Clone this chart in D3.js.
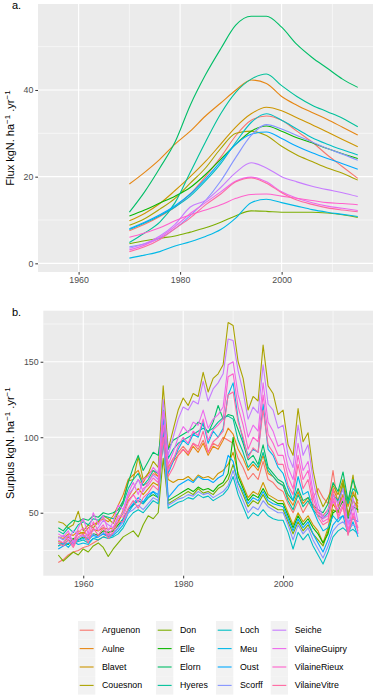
<!DOCTYPE html>
<html>
<head>
<meta charset="utf-8">
<script src="https://cdn.jsdelivr.net/npm/d3@7"></script>
<style>
  body { margin: 0; background: #fff; }
  svg { display: block; font-family: "Liberation Sans", Arial, sans-serif; }
</style>
</head>
<body>
<div id="chart"></div>
<script>
// catchments, in legend order
var names = ["Arguenon", "Aulne", "Blavet", "Couesnon", "Don", "Elle", "Elorn", "Hyeres",
  "Loch", "Meu", "Oust", "Scorff", "Seiche", "VilaineGuipry", "VilaineRieux", "VilaineVitre"];
var colors = ["#F8766D", "#E68613", "#CD9600", "#ABA300", "#7CAE00", "#0CB702", "#00BE67", "#00C19A",
  "#00BFC4", "#00B8E7", "#00A9FF", "#8494FF", "#C77CFF", "#ED68ED", "#FF61CC", "#FF68A1"];

// panel a: smoothed flux, sampled every 3 years
var fluxYears = [1970, 1973, 1976, 1979, 1982, 1985, 1988, 1991, 1994, 1997, 2000, 2003, 2006, 2009, 2012, 2015];
var fluxArguenon = [7.5, 9, 10.8, 13, 16, 20, 24.5, 29.5, 33, 34, 33, 30.5, 28, 25, 22.3, 19.6];
var fluxAulne = [18.3, 21, 24, 27.5, 30.5, 34, 37, 40, 42.3, 41.5, 38.5, 36.5, 34.8, 33.2, 31.4, 29.6];
var fluxBlavet = [9.8, 11.5, 13.8, 16.8, 20, 23.5, 27.5, 31.5, 34.5, 36, 35.2, 33.6, 32, 30.3, 28.6, 26.9];
var fluxCouesnon = [8.8, 10.3, 12.5, 15, 18.5, 22, 26.5, 30, 30.5, 29.5, 27, 25, 23.5, 22, 20.8, 19.2];
var fluxDon = [4.5, 5.2, 5.8, 6.3, 7.2, 8.2, 9.5, 11, 12.1, 12, 11.8, 11.8, 11.8, 11.6, 11.2, 10.6];
var fluxElle = [10.9, 12.3, 13.9, 15.5, 17.5, 20.5, 24, 27.5, 30.5, 31.7, 30.5, 29, 27.8, 26.5, 25.3, 24.2];
var fluxElorn = [11.8, 16.5, 22, 28, 36.5, 43.5, 49.5, 55, 57, 57, 54.5, 50.5, 47.5, 45, 42.5, 40.6];
var fluxHyeres = [4.8, 7, 9.5, 14, 21, 28, 34.5, 39.5, 42.5, 43.7, 41, 38.5, 36.5, 35, 33.5, 31.5];
var fluxLoch = [7.8, 9.3, 11, 13, 15.5, 19, 23, 28, 32.5, 34.5, 33, 31, 29, 27.5, 26.2, 25];
var fluxMeu = [1.2, 1.9, 2.7, 4, 5, 6.2, 7.8, 10.5, 14, 14.8, 14, 13.2, 12.4, 11.8, 11.3, 10.8];
var fluxOust = [8, 9.5, 11.2, 13.3, 16, 19.5, 23.5, 27.5, 29.8, 30.3, 28.8, 27, 25.5, 24.2, 23, 21.7];
var fluxScorff = [3.8, 4.5, 5.8, 8, 11, 14.5, 19, 24.5, 29.5, 32, 31, 29.5, 28, 26.5, 25.2, 23.8];
var fluxSeiche = [3.5, 4.5, 6.3, 9, 13, 14.5, 17.5, 21, 23.2, 22, 20, 18.8, 17.8, 17, 16.3, 15.4];
var fluxVilaineGuipry = [3.1, 4.2, 6, 8.5, 11.5, 14, 16.5, 19, 19.9, 18.8, 16.5, 15, 14, 13.2, 12.7, 12.2];
var fluxVilaineRieux = [6, 7, 8.2, 9.8, 11.2, 12.3, 13.5, 15, 15.9, 16, 15.5, 15, 14.5, 14, 13.8, 13.5];
var fluxVilaineVitre = [2.7, 3.8, 5.5, 8, 10.5, 13.5, 16, 18.8, 19.7, 18.5, 16.3, 14.6, 13.6, 12.8, 12.3, 11.9];
var fluxSeries = [fluxArguenon, fluxAulne, fluxBlavet, fluxCouesnon, fluxDon, fluxElle, fluxElorn, fluxHyeres,
  fluxLoch, fluxMeu, fluxOust, fluxScorff, fluxSeiche, fluxVilaineGuipry, fluxVilaineRieux, fluxVilaineVitre];

// panel b: yearly surplus 1955-2015
var surplusYears = d3.range(1955, 2016);
var surArguenon = [17, 19, 22, 24, 25, 27, 28, 30, 32, 34, 36, 38, 44, 52, 60, 66, 72, 68, 70, 76,
  74, 104, 80, 86, 90, 94, 90, 96, 92, 98, 90, 96, 94, 100, 98, 96, 86, 80, 72, 76,
  72, 84, 72, 70, 66, 64, 56, 50, 58, 50, 56, 60, 66, 60, 56, 78, 54, 62, 50, 58, 52];
var surAulne = [34, 33, 36, 35, 38, 36, 40, 42, 44, 46, 44, 48, 55, 62, 72, 75, 78, 70, 76, 78,
  74, 98, 78, 84, 88, 92, 88, 94, 90, 96, 88, 94, 92, 98, 106, 102, 92, 86, 78, 82,
  78, 88, 76, 74, 70, 68, 60, 55, 64, 56, 60, 54, 50, 48, 52, 66, 58, 70, 54, 64, 56];
var surBlavet = [31, 30, 34, 32, 36, 37, 35, 39, 38, 40, 39, 40, 44, 50, 58, 62, 66, 62, 66, 70,
  68, 98, 72, 70, 72, 72, 74, 71, 75, 73, 74, 72, 76, 78, 82, 90, 76, 68, 60, 64,
  62, 70, 62, 60, 58, 58, 50, 42, 50, 44, 48, 42, 38, 30, 40, 56, 50, 62, 48, 58, 54];
var surCouesnon = [44, 43, 40, 42, 51, 38, 42, 40, 44, 48, 46, 43, 50, 57, 71, 72, 87, 72, 76, 84,
  80, 134, 92, 105, 118, 126, 121, 129, 127, 143, 130, 139, 142, 148, 176, 174, 150, 139, 118, 127,
  124, 161, 134, 129, 115, 118, 95, 88, 119, 97, 103, 78, 62, 54, 60, 68, 62, 72, 56, 75, 50];
var surDon = [22, 18, 21, 24, 22, 26, 24, 28, 30, 27, 21, 26, 30, 34, 36, 38, 34, 42, 48, 46,
  50, 86, 56, 58, 60, 62, 64, 62, 66, 63, 64, 62, 66, 68, 72, 82, 70, 62, 54, 58,
  56, 62, 56, 54, 52, 52, 44, 36, 44, 38, 42, 36, 32, 28, 38, 52, 50, 70, 48, 62, 58];
var surElle = [28, 30, 29, 33, 32, 34, 33, 36, 35, 38, 37, 38, 42, 46, 52, 55, 58, 56, 60, 62,
  60, 100, 58, 60, 62, 64, 66, 64, 67, 65, 66, 64, 68, 70, 76, 100, 74, 66, 58, 62,
  60, 66, 60, 58, 56, 56, 48, 40, 48, 42, 46, 40, 36, 30, 36, 50, 52, 58, 46, 54, 52];
var surElorn = [40, 38, 42, 45, 44, 46, 45, 48, 47, 50, 49, 50, 52, 58, 70, 80, 88, 78, 84, 90,
  88, 112, 92, 98, 100, 102, 104, 106, 110, 108, 103, 110, 121, 112, 115, 114, 105, 96, 85, 88,
  82, 95, 80, 76, 72, 70, 62, 58, 66, 58, 60, 55, 52, 50, 56, 70, 64, 77, 58, 72, 62];
var surHyeres = [38, 36, 40, 37, 42, 44, 42, 46, 45, 48, 47, 46, 50, 56, 66, 72, 76, 68, 72, 78,
  76, 118, 86, 92, 96, 98, 100, 102, 104, 106, 104, 106, 110, 113, 114, 112, 98, 90, 80, 84,
  80, 90, 78, 74, 70, 68, 58, 52, 62, 54, 58, 52, 48, 46, 50, 62, 58, 66, 56, 66, 63];
var surLoch = [30, 29, 32, 30, 31, 32, 30, 33, 32, 34, 33, 34, 36, 40, 46, 50, 52, 50, 54, 58,
  56, 104, 53, 55, 57, 58, 60, 59, 62, 60, 61, 58, 60, 62, 66, 74, 62, 54, 46, 50,
  48, 52, 48, 46, 45, 45, 37, 26, 37, 32, 36, 28, 22, 16, 24, 34, 38, 40, 37, 39, 36];
var surMeu = [28, 30, 27, 31, 29, 30, 29, 33, 34, 36, 34, 35, 38, 42, 50, 55, 58, 56, 60, 64,
  60, 110, 76, 84, 92, 98, 95, 102, 100, 110, 96, 104, 100, 106, 128, 136, 112, 98, 88, 92,
  90, 122, 92, 88, 80, 76, 66, 58, 74, 62, 64, 52, 44, 38, 40, 48, 44, 48, 36, 44, 34];
var surOust = [26, 28, 30, 29, 32, 33, 32, 35, 34, 36, 35, 36, 40, 46, 52, 56, 60, 57, 62, 64,
  62, 112, 60, 64, 68, 70, 72, 70, 74, 72, 72, 70, 73, 75, 88, 84, 70, 64, 56, 60,
  58, 64, 58, 56, 55, 54, 46, 38, 46, 40, 44, 36, 30, 24, 32, 42, 46, 48, 44, 46, 44];
var surScorff = [34, 32, 35, 31, 33, 35, 33, 36, 34, 37, 35, 36, 40, 44, 50, 52, 55, 52, 56, 60,
  58, 100, 55, 57, 59, 60, 62, 61, 64, 62, 63, 60, 62, 64, 68, 78, 66, 58, 50, 54,
  52, 58, 54, 52, 50, 50, 42, 32, 42, 36, 40, 32, 26, 20, 28, 38, 42, 44, 40, 42, 40];
var surSeiche = [33, 35, 32, 38, 36, 34, 36, 38, 40, 45, 42, 40, 46, 50, 62, 66, 72, 64, 70, 75,
  72, 125, 88, 100, 112, 120, 118, 124, 122, 137, 124, 132, 136, 142, 165, 164, 144, 130, 112, 120,
  116, 148, 122, 118, 106, 108, 88, 80, 108, 88, 95, 72, 56, 47, 52, 62, 56, 66, 42, 60, 44];
var surVilaineGuipry = [36, 34, 38, 30, 40, 46, 36, 50, 42, 48, 38, 44, 55, 52, 63, 70, 62, 72, 74, 80,
  76, 117, 82, 90, 100, 107, 103, 110, 108, 118, 106, 112, 115, 120, 148, 150, 128, 116, 100, 108,
  104, 136, 110, 104, 94, 96, 80, 72, 96, 78, 84, 64, 52, 46, 48, 58, 52, 60, 38, 55, 36];
var surVilaineRieux = [32, 30, 35, 28, 37, 40, 33, 44, 38, 42, 35, 40, 48, 47, 57, 62, 57, 66, 68, 73,
  70, 108, 78, 85, 94, 100, 96, 104, 101, 112, 98, 105, 108, 112, 140, 142, 120, 108, 92, 100,
  97, 128, 102, 96, 88, 88, 74, 66, 88, 72, 78, 60, 50, 44, 46, 60, 48, 56, 36, 50, 40];
var surVilaineVitre = [30, 28, 32, 27, 34, 36, 30, 40, 35, 40, 33, 37, 44, 44, 53, 58, 53, 60, 63, 68,
  65, 100, 74, 80, 88, 92, 89, 96, 94, 104, 90, 97, 100, 104, 128, 130, 110, 100, 86, 93,
  90, 118, 95, 90, 82, 82, 68, 62, 82, 66, 72, 56, 47, 42, 44, 66, 46, 54, 35, 48, 38];
var surplusSeries = [surArguenon, surAulne, surBlavet, surCouesnon, surDon, surElle, surElorn, surHyeres,
  surLoch, surMeu, surOust, surScorff, surSeiche, surVilaineGuipry, surVilaineRieux, surVilaineVitre];

var xTicks = [1960, 1980, 2000];
var xMinor = [1970, 1990, 2010];
var fluxTicks = [0, 20, 40];
var fluxMinor = [10, 30, 50];
var surTicks = [50, 100, 150];
var surMinor = [25, 75, 125, 175];

var W = 375, H = 696;
var svg = d3.select("#chart").append("svg").attr("width", W).attr("height", H);

function panel(opt) {
  var x = d3.scaleLinear().domain([1952, 2018]).range([opt.left, 373]);
  var y = d3.scaleLinear().domain(opt.yDomain).range([opt.bottom, opt.top]);
  var g = svg.append("g");

  g.append("rect").attr("x", opt.left).attr("y", opt.top)
    .attr("width", 373 - opt.left).attr("height", opt.bottom - opt.top).attr("fill", "#EBEBEB");

  // grid
  g.selectAll(".hmin").data(opt.yMinor.filter(function(d) { return y(d) > opt.top && y(d) < opt.bottom; }))
    .enter().append("line")
    .attr("x1", opt.left).attr("x2", 373).attr("y1", function(d) { return y(d); }).attr("y2", function(d) { return y(d); })
    .attr("stroke", "#fff").attr("stroke-width", 0.55);
  g.selectAll(".vmin").data(xMinor).enter().append("line")
    .attr("y1", opt.top).attr("y2", opt.bottom).attr("x1", function(d) { return x(d); }).attr("x2", function(d) { return x(d); })
    .attr("stroke", "#fff").attr("stroke-width", 0.55);
  g.selectAll(".hmaj").data(opt.yTicks).enter().append("line")
    .attr("x1", opt.left).attr("x2", 373).attr("y1", function(d) { return y(d); }).attr("y2", function(d) { return y(d); })
    .attr("stroke", "#fff").attr("stroke-width", 1.1);
  g.selectAll(".vmaj").data(xTicks).enter().append("line")
    .attr("y1", opt.top).attr("y2", opt.bottom).attr("x1", function(d) { return x(d); }).attr("x2", function(d) { return x(d); })
    .attr("stroke", "#fff").attr("stroke-width", 1.1);

  // lines
  var line = d3.line()
    .x(function(d) { return x(d[0]); })
    .y(function(d) { return y(d[1]); })
    .curve(opt.curve);
  g.selectAll(".series").data(opt.series).enter().append("path")
    .attr("fill", "none")
    .attr("stroke", function(d, i) { return colors[i]; })
    .attr("stroke-width", 1.1)
    .attr("stroke-linejoin", "round")
    .attr("d", function(vals) { return line(opt.years.map(function(yr, j) { return [yr, vals[j]]; })); });

  // axes
  var ax = g.append("g").attr("transform", "translate(0," + opt.bottom + ")")
    .call(d3.axisBottom(x).tickValues(xTicks).tickFormat(d3.format("d")).tickSize(2.7).tickPadding(2));
  var ay = g.append("g").attr("transform", "translate(" + opt.left + ",0)")
    .call(d3.axisLeft(y).tickValues(opt.yTicks).tickSize(2.7).tickPadding(2));
  [ax, ay].forEach(function(a) {
    a.select(".domain").remove();
    a.selectAll(".tick line").attr("stroke", "#333333").attr("stroke-width", 1);
    a.selectAll(".tick text").attr("fill", "#4D4D4D").style("font-size", "8.8px");
  });

  // y title with superscripts
  var t = g.append("text")
    .attr("transform", "translate(" + opt.titleX + "," + ((opt.top + opt.bottom) / 2) + ") rotate(-90)")
    .attr("text-anchor", "middle").attr("fill", "#000").style("font-size", "11px");
  t.append("tspan").text(opt.title + " kgN. ha");
  t.append("tspan").attr("dy", -4).style("font-size", "8px").text("\u22121");
  t.append("tspan").attr("dy", 4).text(" .yr");
  t.append("tspan").attr("dy", -4).style("font-size", "8px").text("\u22121");

  svg.append("text").attr("x", opt.labelX).attr("y", opt.labelY)
    .attr("fill", "#000").style("font-size", "11px").text(opt.label);
}

panel({
  left: 38, top: 4, bottom: 272, yDomain: [-2.0, 59.84],
  yTicks: fluxTicks, yMinor: fluxMinor, years: fluxYears, series: fluxSeries,
  curve: d3.curveMonotoneX, title: "Flux", titleX: 14, label: "a.", labelX: 12, labelY: 9
});

panel({
  left: 43.3, top: 310.7, bottom: 575.7, yDomain: [8.3, 183.8],
  yTicks: surTicks, yMinor: surMinor, years: surplusYears, series: surplusSeries,
  curve: d3.curveLinear, title: "Surplus", titleX: 14, label: "b.", labelX: 12, labelY: 316
});

// legend: 4 columns of 4
var colKeyX = [78, 156, 216, 270.7];
var rowY = 621;
var rowH = 18.4;
var leg = svg.append("g");
var items = leg.selectAll(".item").data(names).enter().append("g")
  .attr("transform", function(d, i) {
    var c = Math.floor(i / 4), r = i % 4;
    return "translate(" + colKeyX[c] + "," + (rowY + r * rowH) + ")";
  });
items.append("rect").attr("width", 17.3).attr("height", rowH).attr("fill", "#F2F2F2");
items.append("line").attr("x1", 1.7).attr("x2", 15.6).attr("y1", rowH / 2).attr("y2", rowH / 2)
  .attr("stroke", function(d, i) { return colors[i]; }).attr("stroke-width", 1.1);
items.append("text").attr("x", 24).attr("y", rowH / 2).attr("dy", "0.35em")
  .attr("fill", "#000").style("font-size", "8.8px").text(function(d) { return d; });
</script>
</body>
</html>
